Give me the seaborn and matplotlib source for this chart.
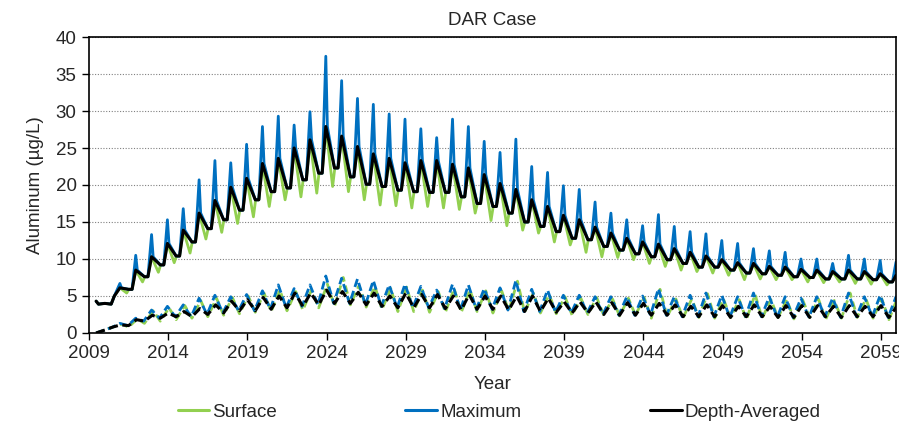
import matplotlib
matplotlib.use("Agg")
import matplotlib.pyplot as plt
from matplotlib.lines import Line2D
import numpy as np
import pandas as pd
import seaborn as sns

# one seasonal cycle per year, spike near Jan 1 of that year
years = list(range(2011, 2061))

# upper group (ug/L)
da_peak = [6.1, 8.5, 10.3, 12.1, 13.9, 16.2, 17.9, 19.7, 20.9, 22.9,
           23.6, 25.0, 26.1, 27.9, 26.6, 25.2, 24.2, 23.6, 23.0, 23.3,
           23.3, 22.8, 22.3, 21.4, 20.2, 19.4, 18.0, 17.1, 15.9, 15.3,
           14.3, 13.5, 12.8, 12.3, 12.0, 11.4, 10.9, 10.4, 9.9, 9.5,
           9.4, 9.0, 8.9, 8.6, 8.5, 8.3, 8.5, 8.3, 8.0, 7.8]
da_trough = [5.9, 7.6, 9.2, 10.4, 12.3, 14.1, 15.3, 16.6, 18.0, 19.1,
             19.6, 20.7, 21.6, 22.3, 21.1, 20.1, 19.8, 19.3, 19.1, 19.0,
             19.0, 18.4, 17.5, 17.1, 16.2, 15.0, 14.4, 13.7, 12.8, 12.6,
             11.7, 11.2, 10.7, 10.3, 9.9, 9.4, 8.9, 8.9, 8.5, 8.1,
             8.0, 7.8, 7.6, 7.5, 7.3, 7.3, 7.3, 7.2, 6.9, 6.9]
max_spike = [6.7, 10.5, 13.3, 15.3, 16.8, 20.7, 23.3, 23.0, 25.5, 27.9,
             29.3, 28.1, 29.9, 37.4, 34.1, 31.7, 30.9, 29.6, 28.9, 27.6,
             26.4, 28.9, 27.9, 25.9, 24.4, 26.2, 22.5, 21.7, 19.9, 19.4,
             17.7, 16.2, 15.3, 14.5, 16.0, 14.4, 13.7, 13.4, 12.5, 12.1,
             11.4, 11.1, 10.9, 10.0, 10.0, 9.4, 10.5, 10.0, 9.8, 9.6]
surf_dip = [5.4, 6.9, 8.2, 9.5, 10.8, 12.7, 13.6, 14.8, 15.7, 17.1,
            18.0, 18.4, 18.9, 19.8, 19.1, 18.0, 17.3, 17.2, 16.9, 17.1,
            16.9, 16.7, 16.2, 15.2, 14.5, 13.9, 13.5, 12.3, 11.9, 10.9,
            10.3, 10.2, 9.9, 9.4, 9.0, 8.5, 8.3, 8.1, 7.8, 7.2,
            7.3, 7.2, 7.2, 6.9, 6.8, 6.9, 6.7, 6.6, 6.5, 6.5]

# lower group (dashed)
lo_da_peak = [1.1, 1.8, 2.4, 2.7, 2.9, 3.3, 3.8, 4.3, 4.5, 4.8,
              5.0, 5.4, 5.4, 5.8, 5.6, 5.5, 5.4, 5.0, 5.4, 5.2,
              5.2, 5.0, 5.2, 5.0, 5.0, 5.0, 5.0, 4.7, 4.2, 4.2,
              4.2, 4.1, 4.1, 4.0, 4.0, 3.8, 3.6, 3.8, 3.7, 3.6,
              3.8, 3.6, 3.7, 3.7, 3.7, 3.6, 3.7, 3.6, 3.7, 3.6]
lo_da_trough = [1.0, 1.6, 2.0, 2.2, 2.2, 2.5, 2.7, 3.0, 3.0, 3.2,
                3.4, 3.6, 3.8, 4.0, 4.0, 3.8, 3.6, 3.4, 3.4, 3.4,
                3.3, 3.1, 3.2, 3.2, 3.1, 2.9, 2.9, 2.8, 2.7, 2.7,
                2.5, 2.4, 2.4, 2.4, 2.4, 2.2, 2.2, 2.2, 2.1, 2.2,
                2.2, 2.1, 2.1, 2.1, 2.2, 2.1, 2.2, 2.2, 2.1, 2.1]
lo_max_peak = [1.3, 2.0, 3.1, 3.6, 3.8, 4.7, 5.1, 4.9, 5.2, 5.7,
               6.5, 6.0, 6.5, 7.7, 7.4, 7.3, 7.1, 6.5, 6.6, 6.3,
               5.8, 6.6, 6.5, 6.0, 6.1, 7.1, 5.9, 5.8, 5.1, 5.1,
               4.9, 4.9, 4.9, 5.0, 6.0, 4.9, 5.1, 5.4, 5.1, 4.9,
               5.4, 4.9, 4.9, 4.7, 4.9, 4.7, 5.4, 4.9, 5.1, 4.9]
lo_surf_peak = [1.2, 1.9, 3.0, 3.4, 3.7, 4.4, 4.7, 4.8, 5.0, 5.4,
                5.8, 5.6, 5.8, 6.6, 7.5, 6.4, 6.3, 6.0, 6.2, 5.8,
                5.6, 6.0, 5.8, 5.7, 5.7, 7.0, 5.4, 5.2, 4.9, 4.7,
                4.8, 4.6, 4.7, 4.8, 5.9, 4.6, 4.6, 5.3, 4.6, 4.5,
                5.2, 4.5, 4.5, 4.5, 4.6, 4.4, 5.4, 4.6, 4.6, 4.8]
lo_surf_dip = [0.8, 1.3, 1.6, 1.8, 2.0, 2.2, 2.4, 2.6, 2.8, 2.9,
               3.0, 3.1, 3.4, 3.6, 3.8, 3.5, 3.2, 2.9, 2.9, 2.8,
               2.8, 2.8, 2.9, 2.7, 3.0, 2.8, 2.7, 2.6, 2.4, 2.5,
               2.4, 2.3, 2.4, 2.0, 2.2, 2.0, 2.1, 2.0, 2.1, 1.8,
               2.0, 2.1, 1.9, 2.1, 1.8, 2.0, 2.1, 2.0, 1.8, 1.9]

# start of the record, before the first full cycle
early_t = [2009.45, 2009.6, 2010.0, 2010.4, 2010.6]
early_upper = [4.3, 3.9, 4.0, 3.9, 5.0]
early_lo_t = [2009.45, 2010.0, 2010.5]
early_lower = [0.0, 0.4, 0.8]


def build(t0, v0, parts):
    t, v = list(t0), list(v0)
    for i, yr in enumerate(years):
        for off, vals in parts:
            t.append(yr + off)
            v.append(vals[i])
    return pd.DataFrame({"Year": t, "Value": v})


up_surf = build(early_t, early_upper, [(-0.05, da_peak), (0.38, surf_dip),
                                       (0.52, da_trough), (0.72, da_trough)])
up_max = build(early_t, early_upper, [(-0.05, max_spike), (0.05, da_peak),
                                      (0.50, da_trough), (0.72, da_trough)])
up_da = build(early_t, early_upper, [(-0.05, da_peak), (0.50, da_trough),
                                     (0.72, da_trough)])
lo_surf = build(early_lo_t, early_lower, [(0.05, lo_surf_peak), (0.50, lo_surf_dip)])
lo_max = build(early_lo_t, early_lower, [(-0.05, lo_max_peak), (0.45, lo_da_trough)])
lo_da = build(early_lo_t, early_lower, [(0.0, lo_da_peak), (0.50, lo_da_trough)])

green = "#92D050"
blue = "#0070C0"

sns.set_theme(style="ticks")
plt.rcParams["font.family"] = ["Liberation Sans", "DejaVu Sans"]

fig = plt.figure(figsize=(8.99, 4.23), dpi=100)
ax = fig.add_axes([0.099, 0.2128, 0.8977, 0.6997])

ax.yaxis.grid(True, color="#808080", linestyle=(0, (1, 1.5)), linewidth=0.8)
ax.set_axisbelow(True)

kw = dict(x="Year", y="Value", ax=ax, sort=False, estimator=None)
dash = (0, (3, 1.5))
sns.lineplot(data=up_surf, color=green, lw=2.0, **kw)
sns.lineplot(data=up_max, color=blue, lw=2.0, **kw)
sns.lineplot(data=lo_surf, color=green, lw=2.0, linestyle=dash, **kw)
sns.lineplot(data=lo_max, color=blue, lw=2.0, linestyle=dash, **kw)
sns.lineplot(data=up_da, color="black", lw=2.2, **kw)
sns.lineplot(data=lo_da, color="black", lw=2.2, linestyle=dash, **kw)

ax.set_xlim(2009, 2059.95)
ax.set_ylim(0, 40)
ax.set_xticks(range(2009, 2060, 5))
ax.set_yticks(range(0, 41, 5))
ax.tick_params(labelsize=13.5, length=5, width=1, color="black", direction="out", pad=4)
for s in ax.spines.values():
    s.set_color("black")
    s.set_linewidth(1.2)

ax.set_xlabel("Year", fontsize=13.5, labelpad=10)
ax.set_ylabel("Aluminum (µg/L)", fontsize=13.5, labelpad=8)
ax.set_title("DAR Case", fontsize=13.5, pad=9)

handles = [Line2D([], [], color=green, lw=2.2),
           Line2D([], [], color=blue, lw=2.2),
           Line2D([], [], color="black", lw=2.2)]
fig.legend(handles, ["Surface", "Maximum", "Depth-Averaged"], loc="center",
           bbox_to_anchor=(0.555, 0.026), ncol=3, frameon=False, fontsize=13.5,
           handlelength=1.7, handletextpad=0.15, columnspacing=6.85)

fig.savefig("out.png", dpi=100)
